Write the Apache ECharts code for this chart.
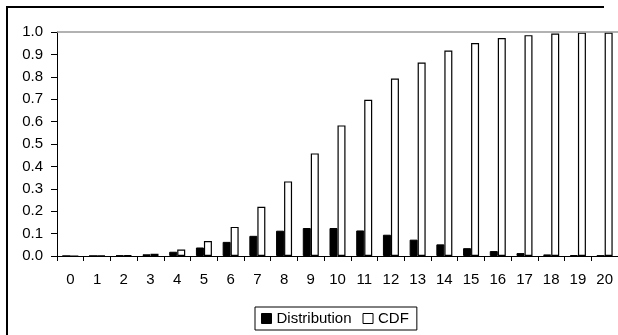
<!DOCTYPE html>
<html>
<head>
<meta charset="utf-8">
<script src="https://cdn.jsdelivr.net/npm/echarts@6/dist/echarts.min.js"></script>
<style>
  html, body { margin: 0; padding: 0; background: #fff; }
  #chart { width: 618px; height: 335px; }
</style>
</head>
<body>
<div id="chart"></div>
<script>
// x categories 0..20
let categories = ['0', '1', '2', '3', '4', '5', '6', '7', '8', '9', '10',
  '11', '12', '13', '14', '15', '16', '17', '18', '19', '20']
// values
let distribution = [0.00005, 0.0005, 0.0023, 0.0076, 0.019, 0.038, 0.063, 0.090,
  0.113, 0.125, 0.125, 0.114, 0.095, 0.073, 0.052, 0.035, 0.022, 0.013,
  0.007, 0.004, 0.002]
let cdf = [0.00005, 0.0005, 0.0028, 0.010, 0.029, 0.067, 0.130, 0.220, 0.333,
  0.458, 0.583, 0.697, 0.792, 0.864, 0.917, 0.951, 0.973, 0.986, 0.993,
  0.997, 0.998]

let font = 'Liberation Sans, Arial, sans-serif'
let myChart = echarts.init(document.getElementById('chart'))
let option = {
  animation: false,
  textStyle: { fontFamily: font },
  grid: { left: 57, top: 32, right: 0, bottom: 79 },
  xAxis: {
    type: 'category',
    data: categories,
    axisLine: { lineStyle: { color: '#000', width: 1 } },
    axisTick: { show: true, length: 5, lineStyle: { color: '#000' } },
    axisLabel: { color: '#000', fontSize: 15, margin: 16, fontFamily: font }
  },
  yAxis: {
    type: 'value',
    min: 0,
    max: 1,
    interval: 0.1,
    axisLine: { show: true, lineStyle: { color: '#000', width: 1 } },
    axisTick: { show: true, length: 6, lineStyle: { color: '#000' } },
    axisLabel: {
      color: '#000', fontSize: 15, margin: 14, fontFamily: font,
      formatter: function(v) { return v.toFixed(1) }
    },
    splitLine: { show: false }
  },
  legend: {
    left: 255,
    top: 307,
    padding: [4, 8, 4, 6],
    itemGap: 11,
    itemWidth: 10,
    itemHeight: 10,
    borderColor: '#000',
    borderWidth: 1,
    borderRadius: 0,
    textStyle: { color: '#000', fontSize: 15, fontFamily: font },
    data: [
      { name: 'Distribution', icon: 'rect', itemStyle: { color: '#000', borderColor: '#000', borderWidth: 1 } },
      { name: 'CDF', icon: 'rect', itemStyle: { color: '#fff', borderColor: '#000', borderWidth: 1 } }
    ]
  },
  series: [
    {
      name: 'Distribution',
      type: 'bar',
      data: distribution,
      barWidth: 8,
      barGap: '0%',
      itemStyle: { color: '#000', borderColor: '#000', borderWidth: 1 }
    },
    {
      name: 'CDF',
      type: 'bar',
      data: cdf,
      barWidth: 8,
      barGap: '0%',
      itemStyle: { color: '#fff', borderColor: '#000', borderWidth: 1.2 },
      markLine: {
        silent: true,
        symbol: 'none',
        label: { show: false },
        lineStyle: { color: '#999', type: 'solid', width: 1.5 },
        data: [{ yAxis: 1 }]
      }
    }
  ],
  graphic: [
    { type: 'line', shape: { x1: 6, y1: 7, x2: 604, y2: 7 }, style: { stroke: '#000', lineWidth: 2 } },
    { type: 'line', shape: { x1: 7, y1: 6, x2: 7, y2: 335 }, style: { stroke: '#000', lineWidth: 2 } }
  ]
}
myChart.setOption(option)
window.addEventListener('resize', function() { myChart.resize() })
</script>
</body>
</html>
